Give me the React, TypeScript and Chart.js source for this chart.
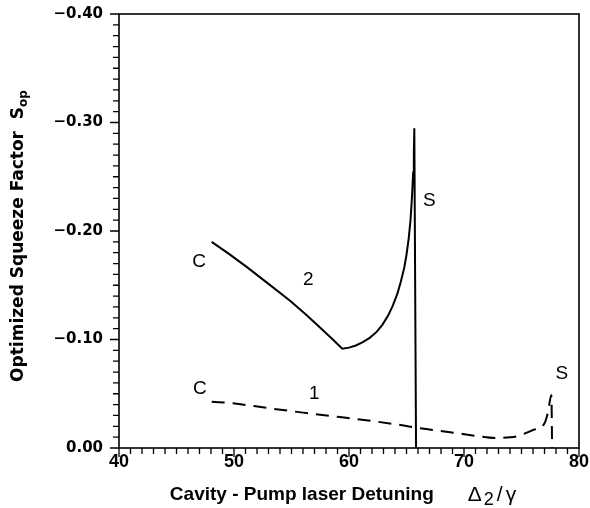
import React, { useEffect, useRef } from "react";
import { Chart, registerables } from "chart.js";

Chart.register(...registerables);

// Curve 2 (solid): cavity detuning vs optimized squeeze factor
const curve2X = [48.06, 49.5, 51.1, 53.0, 54.9, 56.3, 57.5, 58.5, 59.42, 60.0, 60.6, 61.2, 61.8, 62.4, 62.9, 63.4, 63.8, 64.2, 64.5, 64.8, 65.0, 65.2, 65.35, 65.48, 65.58, 65.64, 65.68, 65.83];
const curve2Y = [-0.19, -0.1794, -0.1669, -0.1513, -0.1355, -0.1225, -0.1108, -0.101, -0.0915, -0.0925, -0.0945, -0.0975, -0.1015, -0.107, -0.1135, -0.122, -0.131, -0.142, -0.153, -0.166, -0.178, -0.194, -0.21, -0.232, -0.254, -0.272, -0.2946, 0.0];

// Curve 1 (dashed)
const curve1X = [48.06, 49.9, 52.8, 56.0, 59.0, 62.4, 65.0, 66.2, 69.1, 71.0, 72.8, 74.0, 74.6, 76.0, 77.0, 77.3, 77.6, 77.66];
const curve1Y = [-0.0427, -0.0412, -0.037, -0.0326, -0.0288, -0.0243, -0.0203, -0.0182, -0.0141, -0.0112, -0.0092, -0.0098, -0.0108, -0.0166, -0.0228, -0.033, -0.0488, 0.0];

// Curve annotations (text and data coordinates)
const noteText = ["C", "2", "S", "C", "1", "S"];
const noteX = [46.96, 56.46, 66.98, 47.04, 56.98, 78.5];
const noteY = [-0.172, -0.155, -0.228, -0.055, -0.0504, -0.068];

const xMin = 40;
const xMax = 80;
const xStep = 10;
const yMin = -0.4;
const yMax = 0;
const yStep = 0.1;

const xTitle = "Cavity - Pump laser Detuning";
const xTitleSym = ["Δ", "2", "/", "γ"];
const yTitle = "Optimized Squeeze Factor";
const yTitleSym = ["S", "op"];

const SANS = "'Liberation Sans', Arial, Helvetica, sans-serif";
const DEJAVU = "'DejaVu Sans', sans-serif";

type Part = { t: string; font: string; dy: number; gap?: number };

function drawParts(ctx: CanvasRenderingContext2D, parts: Part[], cx: number, cy: number) {
  let total = 0;
  const widths = parts.map((p) => {
    ctx.font = p.font;
    const w = ctx.measureText(p.t).width + (p.gap || 0);
    total += w;
    return w;
  });
  let x = cx - total / 2;
  ctx.textAlign = "left";
  ctx.textBaseline = "middle";
  parts.forEach((p, i) => {
    ctx.font = p.font;
    ctx.fillText(p.t, x, cy + p.dy);
    x += widths[i];
  });
}

const decorPlugin = {
  id: "decor",
  afterDraw(chart: any) {
    const { ctx, chartArea: a, scales } = chart;
    const xs = scales.x;
    const ys = scales.y;
    ctx.save();
    ctx.strokeStyle = "#000";
    ctx.fillStyle = "#000";
    ctx.lineWidth = 1.6;
    ctx.strokeRect(a.left, a.top, a.right - a.left, a.bottom - a.top);

    ctx.lineWidth = 1.3;
    ctx.beginPath();
    for (let i = 0; i <= 40; i++) {
      const py = ys.getPixelForValue(-i / 100);
      const len = i % 10 === 0 ? 9 : 6;
      ctx.moveTo(a.left - len, py);
      ctx.lineTo(a.left, py);
    }
    for (let v = xMin; v <= xMax; v++) {
      const px = xs.getPixelForValue(v);
      const len = v % 10 === 0 ? 9 : 6;
      ctx.moveTo(px, a.bottom);
      ctx.lineTo(px, a.bottom + len);
    }
    ctx.stroke();

    // annotations
    ctx.font = `19px ${SANS}`;
    ctx.textAlign = "center";
    ctx.textBaseline = "middle";
    noteText.forEach((t, i) => {
      ctx.fillText(t, xs.getPixelForValue(noteX[i]), ys.getPixelForValue(noteY[i]));
    });

    // x title
    drawParts(
      ctx,
      [
        { t: xTitle, font: `bold 19px ${SANS}`, dy: 0, gap: 34 },
        { t: xTitleSym[0], font: `21px ${SANS}`, dy: 0, gap: 2 },
        { t: xTitleSym[1], font: `18px ${SANS}`, dy: 5, gap: 3 },
        { t: xTitleSym[2], font: `21px ${SANS}`, dy: 0, gap: 3 },
        { t: xTitleSym[3], font: `21px ${SANS}`, dy: 0 },
      ],
      343,
      495
    );

    // y title (rotated)
    ctx.save();
    ctx.translate(19, 236);
    ctx.rotate(-Math.PI / 2);
    drawParts(
      ctx,
      [
        { t: yTitle, font: `bold 17px ${DEJAVU}`, dy: 0 },
        { t: "  ", font: `bold 17px ${DEJAVU}`, dy: 0 },
        { t: yTitleSym[0], font: `bold 17px ${DEJAVU}`, dy: 0 },
        { t: yTitleSym[1], font: `bold 12px ${DEJAVU}`, dy: 5 },
      ],
      0,
      0
    );
    ctx.restore();
    ctx.restore();
  },
};

export default function App() {
  const ref = useRef<HTMLCanvasElement | null>(null);

  useEffect(() => {
    document.body.style.margin = "0";
    const canvas = ref.current;
    if (!canvas) return;
    const chart = new Chart(canvas, {
      type: "scatter",
      data: {
        datasets: [
          {
            label: "2",
            data: curve2X.map((x, i) => ({ x, y: curve2Y[i] })),
            showLine: true,
            borderColor: "#000",
            borderWidth: 2,
            pointRadius: 0,
            tension: 0,
          },
          {
            label: "1",
            data: curve1X.map((x, i) => ({ x, y: curve1Y[i] })),
            showLine: true,
            borderColor: "#000",
            borderWidth: 2,
            borderDash: [13, 8],
            pointRadius: 0,
            cubicInterpolationMode: "monotone",
          },
        ],
      },
      options: {
        responsive: false,
        animation: false,
        events: [],
        layout: { padding: { left: 0, right: 11, top: 14, bottom: 0 } },
        plugins: {
          legend: { display: false },
          tooltip: { enabled: false },
          title: { display: false },
        },
        scales: {
          x: {
            type: "linear",
            min: xMin,
            max: xMax,
            grid: {
              display: true,
              drawOnChartArea: false,
              drawTicks: true,
              tickLength: 3,
              tickColor: "rgba(0,0,0,0)",
            },
            border: { display: false },
            ticks: {
              stepSize: xStep,
              padding: 0,
              color: "#000",
              font: { family: SANS, weight: "bold", size: 18 },
              maxRotation: 0,
              callback: (v: any) => String(Math.round(Number(v))),
            },
            afterFit: (s: any) => {
              s.height = 60;
            },
          },
          y: {
            type: "linear",
            min: yMin,
            max: yMax,
            reverse: true,
            grid: {
              display: true,
              drawOnChartArea: false,
              drawTicks: true,
              tickLength: 16,
              tickColor: "rgba(0,0,0,0)",
            },
            border: { display: false },
            ticks: {
              stepSize: yStep,
              padding: 0,
              color: "#000",
              font: { family: DEJAVU, weight: "bold", size: 15 },
              callback: (v: any) => {
                const n = Number(v);
                if (Math.abs(n) < 1e-9) return "0.00";
                return "\u2212" + Math.abs(n).toFixed(2);
              },
            },
            afterFit: (s: any) => {
              s.width = 119;
            },
          },
        },
      },
      plugins: [decorPlugin],
    });
    return () => chart.destroy();
  }, []);

  return (
    <div style={{ width: 590, height: 508 }}>
      <canvas ref={ref} width={590} height={508} style={{ display: "block" }} />
    </div>
  );
}
